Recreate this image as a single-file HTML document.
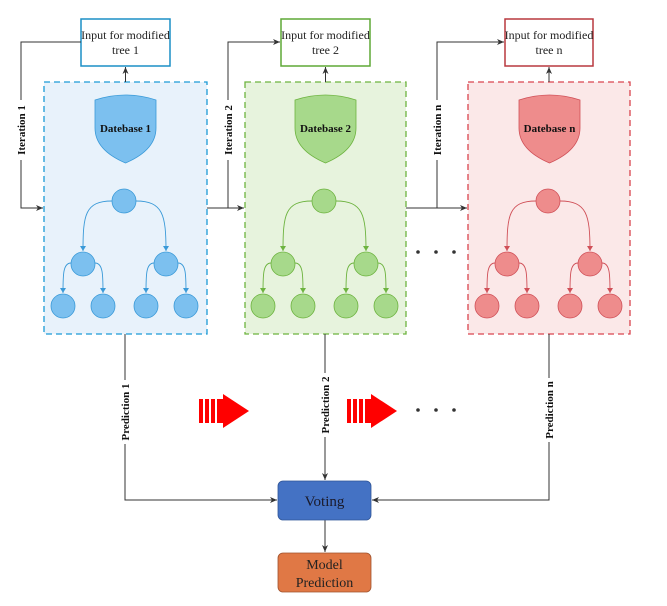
<!DOCTYPE html>
<html><head><meta charset="utf-8"><style>
html,body{margin:0;padding:0;background:#fff}
svg{display:block;font-family:"Liberation Serif",serif}
</style></head><body>
<svg width="667" height="606" viewBox="0 0 667 606" xmlns="http://www.w3.org/2000/svg">
<defs>
<marker id="ar" markerWidth="8" markerHeight="8" refX="7" refY="4" orient="auto" markerUnits="userSpaceOnUse"><path d="M0,1 L7,4 L0,7 L2,4 Z" fill="#333"/></marker>
<marker id="mb" markerWidth="6" markerHeight="6" refX="5" refY="3" orient="auto" markerUnits="userSpaceOnUse"><path d="M0,0 L5,3 L0,6 Z" fill="#3a9ad8"/></marker>
<marker id="mg" markerWidth="6" markerHeight="6" refX="5" refY="3" orient="auto" markerUnits="userSpaceOnUse"><path d="M0,0 L5,3 L0,6 Z" fill="#6db33f"/></marker>
<marker id="mr" markerWidth="6" markerHeight="6" refX="5" refY="3" orient="auto" markerUnits="userSpaceOnUse"><path d="M0,0 L5,3 L0,6 Z" fill="#d05058"/></marker>
<g id="tree">
<path d="M95,100 Q125.5,90 156,100 L156,128 Q156,150 125.5,163 Q95,150 95,128 Z"/>
<circle cx="124" cy="201" r="12"/>
<circle cx="83" cy="264" r="12"/><circle cx="166" cy="264" r="12"/>
<circle cx="63" cy="306" r="12"/><circle cx="103" cy="306" r="12"/>
<circle cx="146" cy="306" r="12"/><circle cx="186" cy="306" r="12"/>
</g>
</defs>

<!-- panels -->
<rect x="44" y="82" width="163" height="252" fill="#e8f2fb" stroke="#1b9ad6" stroke-width="1.3" stroke-dasharray="6,4"/>
<rect x="245" y="82" width="161" height="252" fill="#e7f3dd" stroke="#6db33f" stroke-width="1.3" stroke-dasharray="6,4"/>
<rect x="468" y="82" width="162" height="252" fill="#fbe8e8" stroke="#d9444f" stroke-width="1.3" stroke-dasharray="6,4"/>

<use href="#tree" fill="#7cc0ef" stroke="#3a9ad8" stroke-width="0.8"/>
<g fill="none" stroke="#3a9ad8" stroke-width="0.9">
<path d="M112,201 C85,201 83,215 83,251" marker-end="url(#mb)"/>
<path d="M136,201 C163,201 166,215 166,251" marker-end="url(#mb)"/>
<path d="M71,263 C63,263 63,275 63,293" marker-end="url(#mb)"/>
<path d="M95,263 C103,263 103,275 103,293" marker-end="url(#mb)"/>
<path d="M154,263 C146,263 146,275 146,293" marker-end="url(#mb)"/>
<path d="M178,263 C186,263 186,275 186,293" marker-end="url(#mb)"/>
</g>
<g transform="translate(200,0)"><use href="#tree" fill="#a7d98b" stroke="#6db33f" stroke-width="0.8"/>
<g fill="none" stroke="#6db33f" stroke-width="0.9">
<path d="M112,201 C85,201 83,215 83,251" marker-end="url(#mg)"/>
<path d="M136,201 C163,201 166,215 166,251" marker-end="url(#mg)"/>
<path d="M71,263 C63,263 63,275 63,293" marker-end="url(#mg)"/>
<path d="M95,263 C103,263 103,275 103,293" marker-end="url(#mg)"/>
<path d="M154,263 C146,263 146,275 146,293" marker-end="url(#mg)"/>
<path d="M178,263 C186,263 186,275 186,293" marker-end="url(#mg)"/>
</g></g>
<g transform="translate(424,0)"><use href="#tree" fill="#ee8c8c" stroke="#d05058" stroke-width="0.8"/>
<g fill="none" stroke="#d05058" stroke-width="0.9">
<path d="M112,201 C85,201 83,215 83,251" marker-end="url(#mr)"/>
<path d="M136,201 C163,201 166,215 166,251" marker-end="url(#mr)"/>
<path d="M71,263 C63,263 63,275 63,293" marker-end="url(#mr)"/>
<path d="M95,263 C103,263 103,275 103,293" marker-end="url(#mr)"/>
<path d="M154,263 C146,263 146,275 146,293" marker-end="url(#mr)"/>
<path d="M178,263 C186,263 186,275 186,293" marker-end="url(#mr)"/>
</g></g>

<g font-weight="bold" font-size="11" text-anchor="middle" fill="#111">
<text x="125.5" y="132">Datebase 1</text>
<text x="325.5" y="132">Datebase 2</text>
<text x="549.5" y="132">Datebase n</text>
</g>

<!-- input boxes -->
<rect x="81" y="19" width="89" height="47" fill="#fff" stroke="#1b8fc6" stroke-width="1.5"/>
<rect x="281" y="19" width="89" height="47" fill="#fff" stroke="#5fa836" stroke-width="1.5"/>
<rect x="505" y="19" width="88" height="47" fill="#fff" stroke="#b8383f" stroke-width="1.5"/>
<g font-size="12" text-anchor="middle" fill="#222">
<text x="125.5" y="39">Input for modified</text><text x="125.5" y="54">tree 1</text>
<text x="325.5" y="39">Input for modified</text><text x="325.5" y="54">tree 2</text>
<text x="549" y="39">Input for modified</text><text x="549" y="54">tree n</text>
</g>

<!-- connectors -->
<g stroke="#333" stroke-width="1" fill="none">
<line x1="125.5" y1="82" x2="125.5" y2="67" marker-end="url(#ar)"/>
<line x1="325.5" y1="82" x2="325.5" y2="67" marker-end="url(#ar)"/>
<line x1="549" y1="82" x2="549" y2="67" marker-end="url(#ar)"/>
<path d="M81,42 H21 V208 H43" marker-end="url(#ar)"/>
<path d="M207,208 H228 V42 H280" marker-end="url(#ar)"/>
<path d="M228,208 H244" marker-end="url(#ar)"/>
<path d="M406,208 H437 V42 H504" marker-end="url(#ar)"/>
<path d="M437,208 H467" marker-end="url(#ar)"/>
<path d="M125,334 V500 H277" marker-end="url(#ar)"/>
<path d="M325,334 V480" marker-end="url(#ar)"/>
<path d="M549,334 V500 H372" marker-end="url(#ar)"/>
<path d="M325,520 V552" marker-end="url(#ar)"/>
</g>

<!-- vertical labels -->
<g font-weight="bold" font-size="11" text-anchor="middle" fill="#111">
<rect x="14" y="100" width="14" height="60" fill="#fff"/>
<text transform="translate(25,130) rotate(-90)">Iteration 1</text>
<rect x="221" y="100" width="14" height="60" fill="#fff"/>
<text transform="translate(232,130) rotate(-90)">Iteration 2</text>
<rect x="430" y="100" width="14" height="60" fill="#fff"/>
<text transform="translate(441,130) rotate(-90)">Iteration n</text>
<rect x="118" y="380" width="14" height="64" fill="#fff"/>
<text transform="translate(129,412) rotate(-90)">Prediction 1</text>
<rect x="318" y="373" width="14" height="64" fill="#fff"/>
<text transform="translate(329,405) rotate(-90)">Prediction 2</text>
<rect x="542" y="378" width="14" height="64" fill="#fff"/>
<text transform="translate(553,410) rotate(-90)">Prediction n</text>
</g>

<!-- red arrows -->
<g fill="#ff0000">
<rect x="199" y="399" width="4" height="24"/><rect x="205" y="399" width="4" height="24"/><rect x="211" y="399" width="4" height="24"/><rect x="217" y="399" width="6" height="24"/>
<polygon points="223,394 249,411 223,428"/>
<rect x="347" y="399" width="4" height="24"/><rect x="353" y="399" width="4" height="24"/><rect x="359" y="399" width="4" height="24"/><rect x="365" y="399" width="6" height="24"/>
<polygon points="371,394 397,411 371,428"/>
</g>

<!-- dots -->
<g fill="#333">
<circle cx="418" cy="252" r="1.8"/><circle cx="436" cy="252" r="1.8"/><circle cx="454" cy="252" r="1.8"/>
<circle cx="418" cy="410" r="1.8"/><circle cx="436" cy="410" r="1.8"/><circle cx="454" cy="410" r="1.8"/>
</g>

<!-- voting / model -->
<rect x="278" y="481" width="93" height="39" rx="5" fill="#4472c4" stroke="#2f5597" stroke-width="0.8"/>
<text x="324.5" y="506" font-size="15" text-anchor="middle" fill="#1a1a2a">Voting</text>
<rect x="278" y="553" width="93" height="39" rx="5" fill="#e07845" stroke="#a0522d" stroke-width="0.8"/>
<text x="324.5" y="569" font-size="14" text-anchor="middle" fill="#222">Model</text>
<text x="324.5" y="587" font-size="14" text-anchor="middle" fill="#222">Prediction</text>
</svg>
</body></html>
